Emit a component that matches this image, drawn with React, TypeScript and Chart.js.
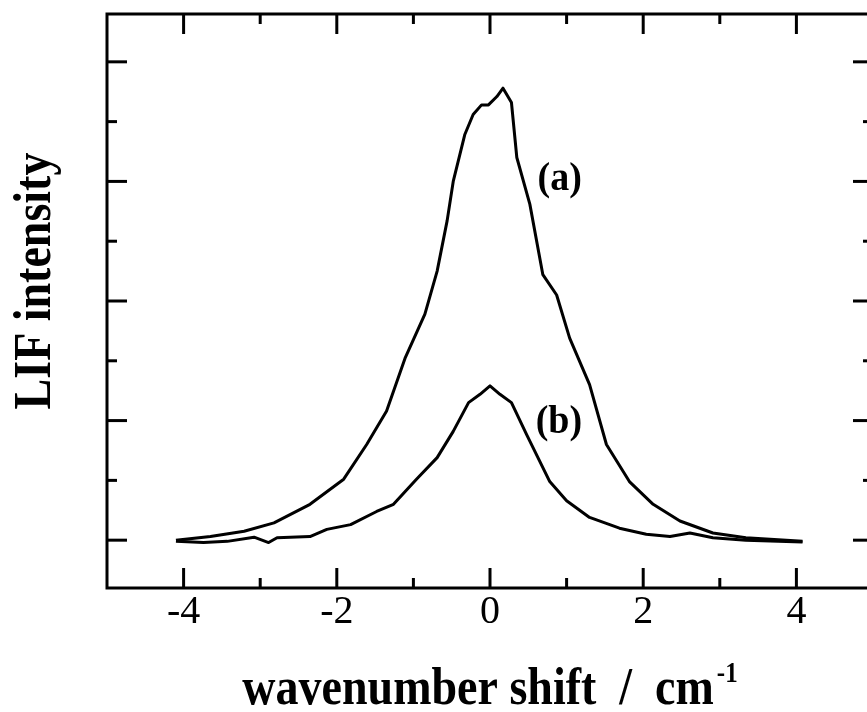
import React, { useEffect, useRef } from 'react';
import { Chart, registerables } from 'chart.js';

Chart.register(...registerables);

// ---- data ----
const A_X = [-4.10, -3.65, -3.21, -2.82, -2.35, -1.91, -1.61, -1.35, -1.11, -0.85, -0.69, -0.56, -0.48, -0.33, -0.22, -0.11, -0.02, 0.09, 0.17, 0.28, 0.35, 0.52, 0.69, 0.87, 1.04, 1.30, 1.52, 1.82, 2.13, 2.48, 2.91, 3.34, 4.08];
const A_Y = [0.0, 0.03, 0.075, 0.145, 0.30, 0.51, 0.80, 1.08, 1.52, 1.89, 2.25, 2.67, 3.00, 3.39, 3.56, 3.64, 3.64, 3.71, 3.78, 3.66, 3.20, 2.81, 2.22, 2.05, 1.69, 1.30, 0.80, 0.49, 0.30, 0.16, 0.06, 0.02, -0.01];
const B_X = [-4.10, -3.74, -3.43, -3.08, -2.89, -2.78, -2.35, -2.13, -1.82, -1.48, -1.26, -0.96, -0.69, -0.48, -0.28, -0.13, 0.0, 0.13, 0.28, 0.48, 0.78, 1.00, 1.30, 1.69, 2.04, 2.35, 2.61, 2.91, 3.34, 4.08];
const B_Y = [-0.01, -0.02, -0.01, 0.025, -0.02, 0.02, 0.03, 0.09, 0.13, 0.24, 0.30, 0.51, 0.69, 0.91, 1.15, 1.22, 1.29, 1.22, 1.15, 0.88, 0.49, 0.33, 0.19, 0.10, 0.05, 0.03, 0.06, 0.02, 0.0, -0.015];

const X_MIN = -5;
const X_MAX = 5;
const Y_MIN = -0.4;
const Y_MAX = 4.4;
const X_MAJOR = [-4, -2, 0, 2, 4];
const X_MINOR = [-3, -1, 1, 3];
const Y_MAJOR = [0, 1, 2, 3, 4];
const Y_MINOR = [0.5, 1.5, 2.5, 3.5];

const X_TITLE = 'wavenumber shift  /  cm';
const X_TITLE_SUP = '-1';
const Y_TITLE = 'LIF intensity';
const SERIES_LABELS = ['(a)', '(b)'];

const SERIF = '"Liberation Serif", "Times New Roman", serif';

function stretchedText(
  ctx: CanvasRenderingContext2D,
  text: string,
  x: number,
  y: number,
  font: string,
  sy: number,
  angle: number,
  align: CanvasTextAlign,
  baseline: CanvasTextBaseline
) {
  ctx.save();
  ctx.translate(x, y);
  ctx.rotate(angle);
  ctx.scale(1, sy);
  ctx.font = font;
  ctx.textAlign = align;
  ctx.textBaseline = baseline;
  ctx.fillStyle = '#000';
  ctx.fillText(text, 0, 0);
  ctx.restore();
}

const framePlugin = {
  id: 'frameAndText',
  afterDatasetsDraw(chart: any) {
    const { ctx, chartArea: a, scales } = chart;
    const xs = scales.x;
    const ys = scales.y;
    ctx.save();
    ctx.strokeStyle = '#000';
    ctx.lineWidth = 3;
    ctx.lineCap = 'butt';
    ctx.lineJoin = 'miter';
    const seg = (x1: number, y1: number, x2: number, y2: number) => {
      ctx.beginPath();
      ctx.moveTo(x1, y1);
      ctx.lineTo(x2, y2);
      ctx.stroke();
    };
    const MAJ = 20;
    const MIN = 10;
    X_MAJOR.forEach((v) => {
      const p = xs.getPixelForValue(v);
      seg(p, a.bottom, p, a.bottom - MAJ);
      seg(p, a.top, p, a.top + MAJ);
    });
    X_MINOR.forEach((v) => {
      const p = xs.getPixelForValue(v);
      seg(p, a.bottom, p, a.bottom - MIN);
      seg(p, a.top, p, a.top + MIN);
    });
    Y_MAJOR.forEach((v) => {
      const p = ys.getPixelForValue(v);
      seg(a.left, p, a.left + MAJ, p);
      seg(a.right, p, a.right - MAJ, p);
    });
    Y_MINOR.forEach((v) => {
      const p = ys.getPixelForValue(v);
      seg(a.left, p, a.left + MIN, p);
      seg(a.right, p, a.right - MIN, p);
    });
    ctx.strokeRect(a.left, a.top, a.right - a.left, a.bottom - a.top);
    ctx.restore();

    // series labels
    const labelFont = `bold 38px ${SERIF}`;
    stretchedText(ctx, SERIES_LABELS[0], xs.getPixelForValue(0.91), ys.getPixelForValue(2.93), labelFont, 1.05, 0, 'center', 'alphabetic');
    stretchedText(ctx, SERIES_LABELS[1], xs.getPixelForValue(0.90), ys.getPixelForValue(0.895), labelFont, 1.05, 0, 'center', 'alphabetic');

    // y title
    const titleFont = `bold 46px ${SERIF}`;
    stretchedText(ctx, Y_TITLE, 50, (a.top + a.bottom) / 2 - 20, titleFont, 1.15, -Math.PI / 2, 'center', 'alphabetic');

    // x title with superscript
    ctx.save();
    ctx.font = titleFont;
    const w1 = ctx.measureText(X_TITLE).width;
    const supFont = `bold 25px ${SERIF}`;
    ctx.font = supFont;
    const w2 = ctx.measureText(X_TITLE_SUP).width;
    ctx.restore();
    const cx = (a.left + a.right) / 2;
    const x0 = cx - (w1 + w2 + 3) / 2;
    const base = 704;
    stretchedText(ctx, X_TITLE, x0, base, titleFont, 1.15, 0, 'left', 'alphabetic');
    stretchedText(ctx, X_TITLE_SUP, x0 + w1 + 3, base - 22, supFont, 1.15, 0, 'left', 'alphabetic');
  },
};

export default function App() {
  const ref = useRef<HTMLCanvasElement | null>(null);

  useEffect(() => {
    document.body.style.margin = '0';
    document.body.style.overflow = 'hidden';
    const canvas = ref.current;
    if (!canvas) return;
    const chart = new Chart(canvas, {
      type: 'line',
      data: {
        datasets: [
          {
            label: SERIES_LABELS[0],
            data: A_X.map((x, i) => ({ x, y: A_Y[i] })),
            borderColor: '#000',
            borderWidth: 3,
            pointRadius: 0,
            tension: 0,
            fill: false,
            borderJoinStyle: 'round',
          },
          {
            label: SERIES_LABELS[1],
            data: B_X.map((x, i) => ({ x, y: B_Y[i] })),
            borderColor: '#000',
            borderWidth: 3,
            pointRadius: 0,
            tension: 0,
            fill: false,
            borderJoinStyle: 'round',
          },
        ],
      },
      options: {
        responsive: false,
        animation: false,
        devicePixelRatio: 1,
        layout: { padding: { top: 14, right: 7, left: 0, bottom: 0 } },
        plugins: {
          legend: { display: false },
          tooltip: { enabled: false },
        },
        scales: {
          x: {
            type: 'linear',
            min: X_MIN,
            max: X_MAX,
            grid: { display: false, drawTicks: false },
            border: { display: false },
            afterBuildTicks: (s: any) => {
              s.ticks = X_MAJOR.map((v) => ({ value: v }));
            },
            afterFit: (s: any) => {
              s.height = 124;
            },
            ticks: {
              color: '#000',
              font: { family: SERIF, size: 40 },
              padding: 0,
              maxRotation: 0,
              autoSkip: false,
            },
          },
          y: {
            type: 'linear',
            min: Y_MIN,
            max: Y_MAX,
            grid: { display: false, drawTicks: false },
            border: { display: false },
            ticks: { display: false },
            afterFit: (s: any) => {
              s.width = 107;
            },
          },
        },
      } as any,
      plugins: [framePlugin],
    });
    return () => chart.destroy();
  }, []);

  return (
    <div style={{ width: 880, height: 712, overflow: 'hidden', background: '#fff' }}>
      <canvas ref={ref} width={880} height={712} style={{ display: 'block' }} />
    </div>
  );
}
